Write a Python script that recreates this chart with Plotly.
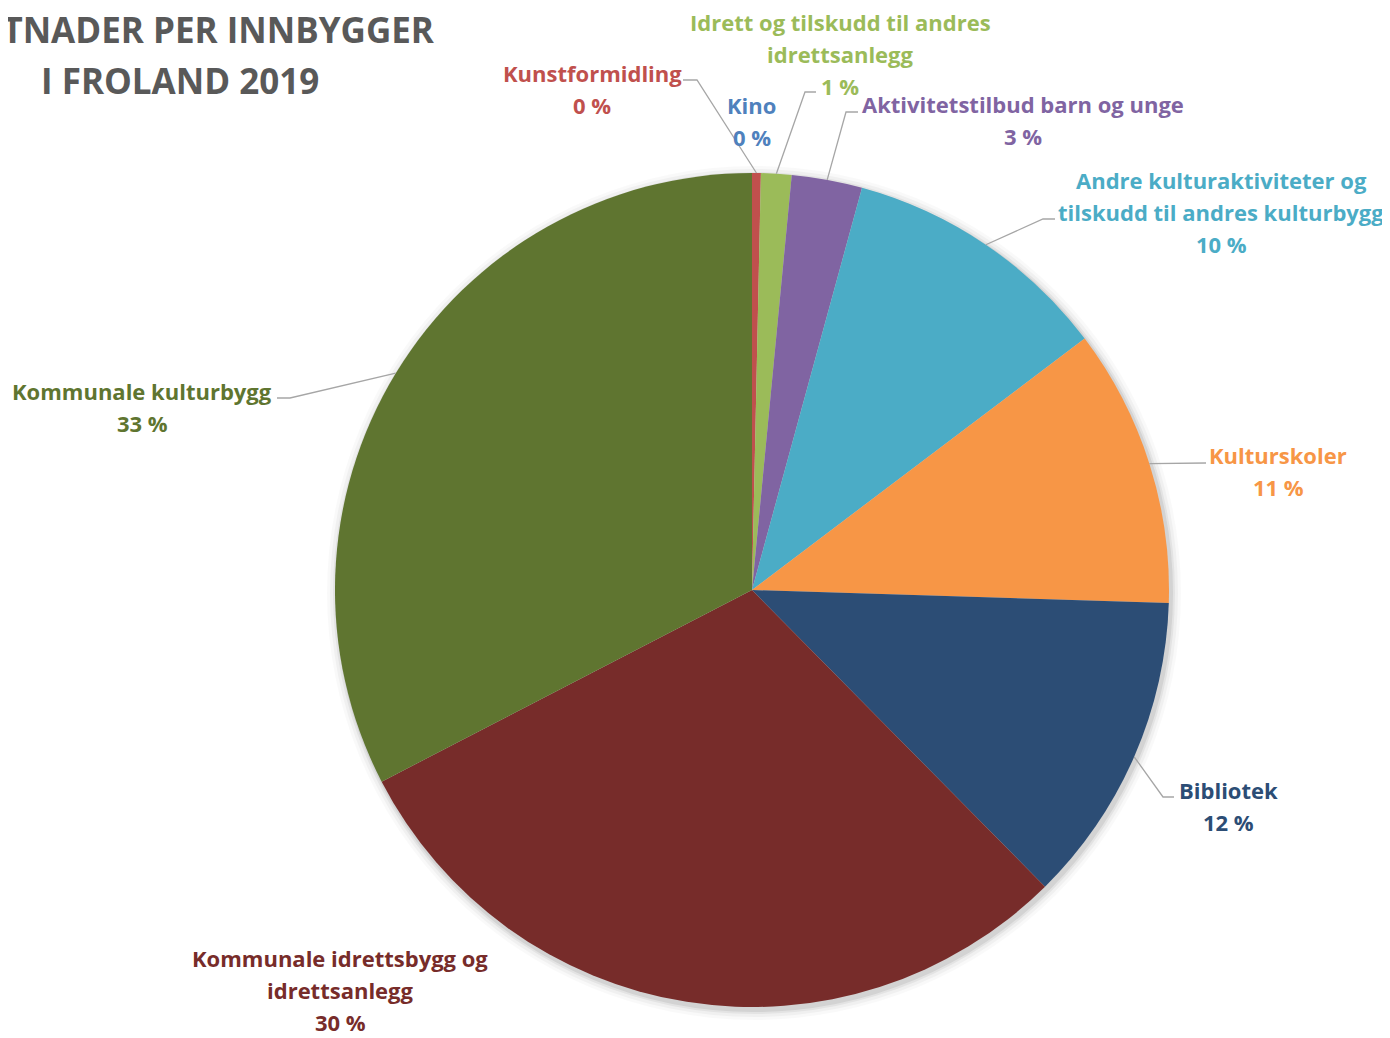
import math
import plotly.graph_objects as go

# page body has an 8px margin: draw the figure 8px smaller and shift coords
OFF = 8
W, H = 1390 - OFF, 1038 - OFF

# ---- data ----
categories = ["Kunstformidling", "Kino", "Idrett og tilskudd til andres idrettsanlegg",
              "Aktivitetstilbud barn og unge",
              "Andre kulturaktiviteter og tilskudd til andres kulturbygg",
              "Kulturskoler", "Bibliotek", "Kommunale idrettsbygg og idrettsanlegg",
              "Kommunale kulturbygg"]
display_lines = [["Kunstformidling"], ["Kino"],
                 ["Idrett og tilskudd til andres", "idrettsanlegg"],
                 ["Aktivitetstilbud barn og unge"],
                 ["Andre kulturaktiviteter og", "tilskudd til andres kulturbygg"],
                 ["Kulturskoler"], ["Bibliotek"],
                 ["Kommunale idrettsbygg og", "idrettsanlegg"],
                 ["Kommunale kulturbygg"]]
shares = [0.34, 0.0, 1.18, 2.73, 10.45, 10.8, 12.1, 29.8, 32.6]
colors = ["#C0504D", "#4F81BD", "#9BBB59", "#8064A2", "#4BACC6",
          "#F79646", "#2C4D75", "#772C2A", "#5F7530"]
title_lines = ["KOSTNADER PER INNBYGGER", "I FROLAND 2019"]

# ---- layout (reference pixels) ----
CX, CY, R = 752, 590, 417
label_pos = [(592, 73), (752, 105), (840, 22), (1023, 104), (1221, 180),
             (1278, 455), (1228, 790), (340, 958), (142, 391)]
leaders = [((683, 80), (697, 80)), None, ((816, 92), (805, 92)),
           ((858, 112), (846, 112)), ((1055, 219), (1043, 219)),
           ((1206, 463), (1206, 463)), ((1174, 797), (1163, 797)),
           None, ((277, 398), (290, 398))]
LINE_H = 32.2
FONT = "Open Sans"
FS = 22
TITLE_FS = 35


def px(x):
    return (x - OFF) / W


def py(y):
    return 1 - (y - OFF) / H


fig = go.Figure(go.Pie(
    labels=categories, values=shares, sort=False, direction="clockwise",
    rotation=0, textinfo="none", hoverinfo="label+percent",
    marker=dict(colors=colors, line=dict(width=0)),
    domain=dict(x=[px(CX - R), px(CX + R)], y=[py(CY + R), py(CY - R)]),
    showlegend=False,
))

shapes = []
for k, op in [(10, 0.025), (7, 0.035), (4, 0.05), (2, 0.07)]:
    shapes.append(dict(type="circle", xref="paper", yref="paper", layer="below",
                       x0=px(CX - R - k + 2), x1=px(CX + R + k + 2),
                       y0=py(CY + R + k + 3), y1=py(CY - R - k + 3),
                       fillcolor=f"rgba(0,0,0,{op})", line=dict(width=0)))

annotations = []
total = sum(shares)
cum = 0.0
for i, v in enumerate(shares):
    mid = (cum + v / 2) / total
    cum += v
    ang = 2 * math.pi * mid
    ex, ey = CX + R * math.sin(ang), CY - R * math.cos(ang)
    if leaders[i] is not None:
        (lx, ly), (bx, by) = leaders[i]
        path = f"M {px(ex)},{py(ey)} L {px(bx)},{py(by)} L {px(lx)},{py(ly)}"
        shapes.append(dict(type="path", xref="paper", yref="paper", path=path,
                           line=dict(color="#A6A6A6", width=1.3)))
    pct = round(v / total * 100)
    lines = display_lines[i] + [f"{pct} %"]
    x0, y0 = label_pos[i]
    for j, t in enumerate(lines):
        annotations.append(dict(text=f"<b>{t}</b>", x=px(x0), y=py(y0 + j * LINE_H),
                                xref="paper", yref="paper", xanchor="center",
                                yanchor="middle", showarrow=False, borderpad=0,
                                font=dict(family=FONT, size=FS, color=colors[i])))

# title: first line runs off the left edge as in the reference
annotations.append(dict(text=f"<b>{title_lines[0]}</b>", x=px(436), y=py(29),
                        xref="paper", yref="paper", xanchor="right",
                        yanchor="middle", showarrow=False, borderpad=0,
                        font=dict(family=FONT, size=TITLE_FS, color="#595959")))
annotations.append(dict(text=f"<b>{title_lines[1]}</b>", x=px(180), y=py(80),
                        xref="paper", yref="paper", xanchor="center",
                        yanchor="middle", showarrow=False, borderpad=0,
                        font=dict(family=FONT, size=TITLE_FS, color="#595959")))

fig.update_layout(width=W, height=H, margin=dict(l=0, r=0, t=0, b=0),
                  paper_bgcolor="white", plot_bgcolor="white",
                  shapes=shapes, annotations=annotations)
fig.write_html("out.html")
